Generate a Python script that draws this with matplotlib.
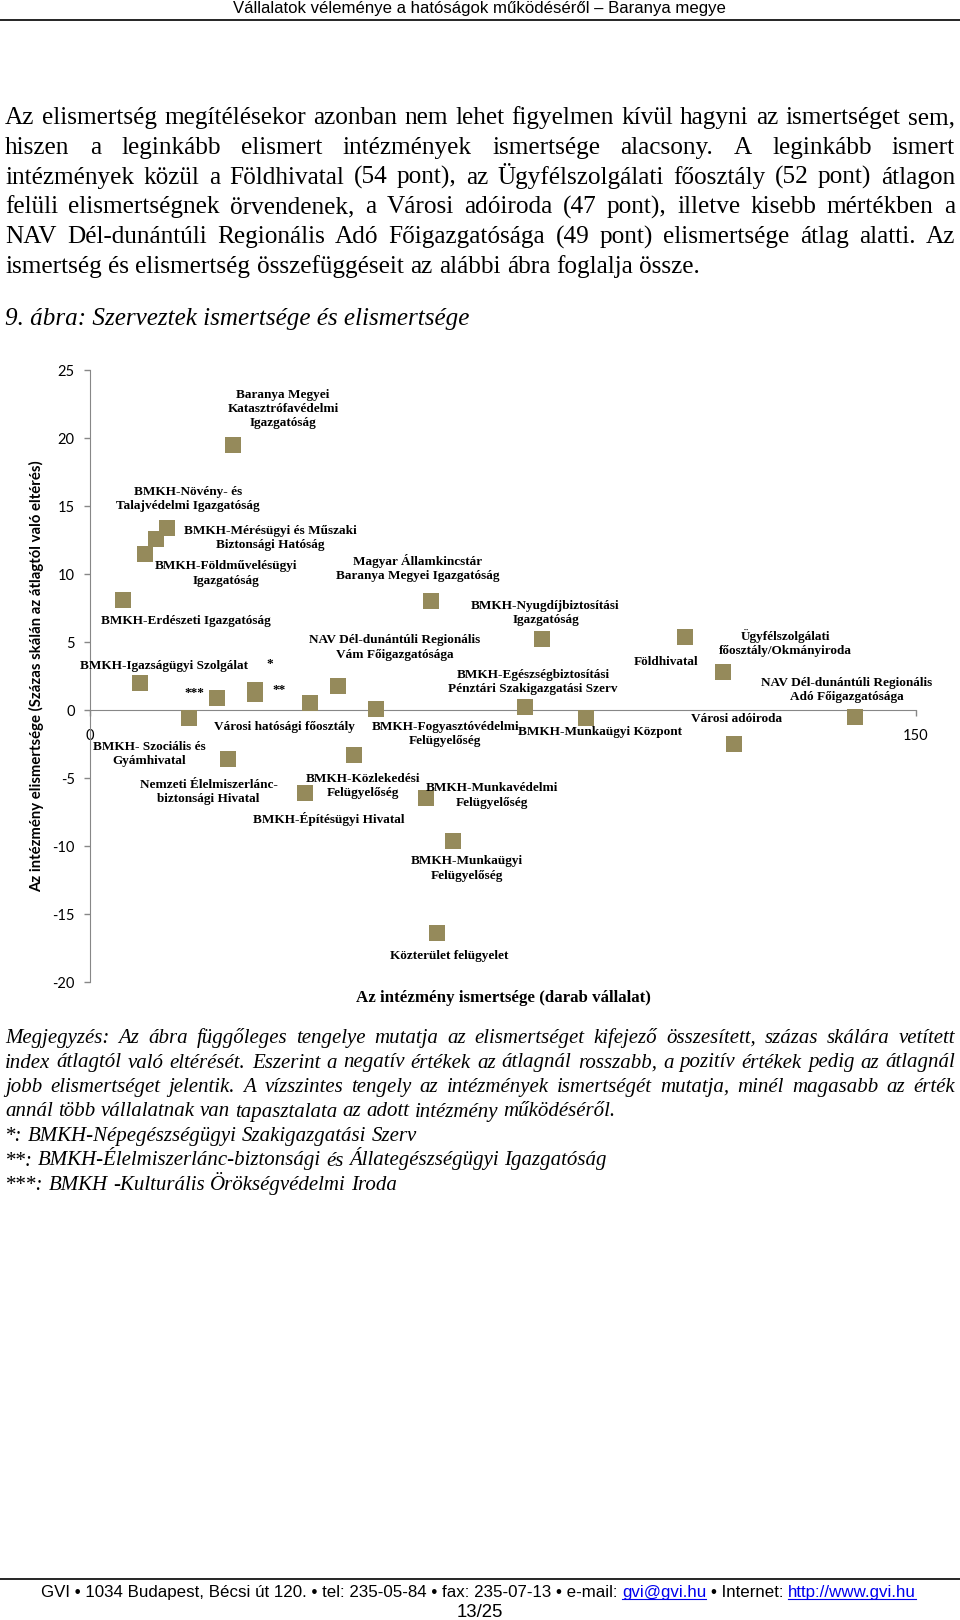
import matplotlib
matplotlib.use('Agg')
import matplotlib.pyplot as plt
from matplotlib.lines import Line2D

plt.rcParams['axes.unicode_minus'] = False

# chart data: ismertség (darab vállalat) and elismertség (eltérés az átlagtól)
names = [
    'Baranya Megyei\nKatasztrófavédelmi\nIgazgatóság',
    'BMKH-Növény- és\nTalajvédelmi Igazgatóság',
    'BMKH-Mérésügyi és Műszaki\nBiztonsági Hatóság',
    'BMKH-Földművelésügyi\nIgazgatóság',
    'BMKH-Erdészeti Igazgatóság',
    'Magyar Államkincstár\nBaranya Megyei Igazgatóság',
    'BMKH-Igazságügyi Szolgálat',
    '***',
    '*',
    '**',
    'BMKH- Szociális és\nGyámhivatal',
    'Városi hatósági főosztály',
    'NAV Dél-dunántúli Regionális\nVám Főigazgatósága',
    'BMKH-Fogyasztóvédelmi\nFelügyelőség',
    'Nemzeti Élelmiszerlánc-\nbiztonsági Hivatal',
    'BMKH-Építésügyi Hivatal',
    'BMKH-Közlekedési\nFelügyelőség',
    'BMKH-Munkavédelmi\nFelügyelőség',
    'BMKH-Munkaügyi\nFelügyelőség',
    'Közterület felügyelet',
    'BMKH-Nyugdíjbiztosítási\nIgazgatóság',
    'BMKH-Egészségbiztosítási\nPénztári Szakigazgatási Szerv',
    'BMKH-Munkaügyi Központ',
    'Földhivatal',
    'Ügyfélszolgálati\nfőosztály/Okmányiroda',
    'NAV Dél-dunántúli Regionális\nAdó Főigazgatósága',
    'Városi adóiroda',
]
ismertseg = [26, 12, 14, 10, 6, 62, 9, 23, 30, 30, 18, 40, 45, 52, 25, 39,
             48, 61, 66, 63, 82, 79, 90, 108, 115, 139, 117]
elismertseg = [19.5, 12.6, 13.4, 11.5, 8.1, 8.0, 2.0, 0.9, 1.5, 1.2, -0.6, 0.5,
               1.8, 0.05, -3.6, -6.1, -3.3, -6.5, -9.6, -16.4, 5.2, 0.2, -0.6,
               5.35, 2.8, -0.5, -2.5]

# label placement (pixel offset from the marker, x right / y down)
label_offsets = [(50, -36), (32, -40), (103, 10), (81, 20), (63, 21), (-14, -33),
                 (24, -17), (-22, -5), (15, -26), (24, -4), (-40, 36), (-26, 24),
                 (57, -38), (69, 25), (-19, 33), (24, 26), (9, 31), (66, -3),
                 (13, 28), (12, 23), (4, -26), (8, -25), (14, 14), (-19, 25),
                 (62, -29), (-9, -27), (2, -25)]

header = 'Vállalatok véleménye a hatóságok működéséről – Baranya megye'
body = [
    'Az elismertség megítélésekor azonban nem lehet figyelmen kívül hagyni az ismertséget sem,',
    'hiszen a leginkább elismert intézmények ismertsége alacsony. A leginkább ismert',
    'intézmények közül a Földhivatal (54 pont), az Ügyfélszolgálati főosztály (52 pont) átlagon',
    'felüli elismertségnek örvendenek, a Városi adóiroda (47 pont), illetve kisebb mértékben a',
    'NAV Dél-dunántúli Regionális Adó Főigazgatósága (49 pont) elismertsége átlag alatti. Az',
    'ismertség és elismertség összefüggéseit az alábbi ábra foglalja össze.',
]
caption = '9. ábra: Szerveztek ismertsége és elismertsége'
notes = [
    'Megjegyzés: Az ábra függőleges tengelye mutatja az elismertséget kifejező összesített, százas skálára vetített',
    'index átlagtól való eltérését. Eszerint a negatív értékek az átlagnál rosszabb, a pozitív értékek pedig az átlagnál',
    'jobb elismertséget jelentik. A vízszintes tengely az intézmények ismertségét mutatja, minél magasabb az érték',
    'annál több vállalatnak van tapasztalata az adott intézmény működéséről.',
    '*: BMKH-Népegészségügyi Szakigazgatási Szerv',
    '**: BMKH-Élelmiszerlánc-biztonsági és Állategészségügyi Igazgatóság',
    '***: BMKH -Kulturális Örökségvédelmi Iroda',
]
footer = [('GVI • 1034 Budapest, Bécsi út 120. • tel: 235-05-84 • fax: 235-07-13 • e-mail: ', False),
          ('gvi@gvi.hu', True), (' • Internet: ', False), ('http://www.gvi.hu', True)]
page_no = '13/25'

W, H = 960, 1620
fig = plt.figure(figsize=(9.6, 16.2), dpi=100)
fig.patch.set_facecolor('white')
renderer = fig.canvas.get_renderer()


def fx(x):
    return x / W


def fy(y):
    return 1 - y / H


def text_w(s, size, **kw):
    t = fig.text(0, 0, s, fontsize=size, **kw)
    w = t.get_window_extent(renderer).width
    t.remove()
    return w


def fit(s, target, **kw):
    return 10 * target / text_w(s, 10, **kw)


def hline(x0, x1, y, lw=1.0, color='black'):
    fig.add_artist(Line2D([fx(x0), fx(x1)], [fy(y), fy(y)], lw=lw, color=color))


def para_line(s, x0, x1, base, size, justify, **kw):
    words = s.split(' ')
    ws = [text_w(w, size, **kw) for w in words]
    if justify and len(words) > 1:
        gap = (x1 - x0 - sum(ws)) / (len(words) - 1)
    else:
        gap = text_w('a a', size, **kw) - text_w('aa', size, **kw)
    x = x0
    for w, wd in zip(words, ws):
        fig.text(fx(x), fy(base), w, fontsize=size, ha='left', va='baseline', **kw)
        x += wd + gap


serif = dict(family='Liberation Serif')
sans = dict(family='Liberation Sans')

# header
hs = fit(header, 494, **sans)
fig.text(fx(479.5), fy(13.5), header, fontsize=hs, ha='center', va='baseline', **sans)
hline(0, 960, 19.5, lw=1.2)

# body paragraph
bs = fit(body[-1], 695, **serif)
for i, line in enumerate(body):
    para_line(line, 5, 955, 124 + i * 29.8, bs, i < len(body) - 1, **serif)

cs = fit(caption, 465, style='italic', **serif)
fig.text(fx(5), fy(325), caption, fontsize=cs, style='italic', ha='left', va='baseline', **serif)

# chart
ax = fig.add_axes([fx(90), fy(982), (916 - 90) / W, (982 - 370) / H])
ax.set_xlim(0, 150)
ax.set_ylim(-20, 25)
ax.scatter(ismertseg, elismertseg, marker='s', s=11 ** 2, color='#958A5B',
           linewidths=0, zorder=3)

axis_col = '#878787'
for side in ['top', 'right']:
    ax.spines[side].set_visible(False)
ax.spines['left'].set_color(axis_col)
ax.spines['bottom'].set_color(axis_col)
ax.spines['bottom'].set_position(('data', 0))
ax.set_xticks([0, 150])
ax.set_yticks(range(-20, 30, 5))
ax.tick_params(axis='both', direction='out', length=4, width=1, color=axis_col,
               labelsize=10.5, labelcolor='black')
ax.tick_params(axis='y', pad=7)
ax.tick_params(axis='x', pad=10)
for lab in ax.get_xticklabels() + ax.get_yticklabels():
    lab.set_family('Lato')

lab_kw = dict(family='Liberation Serif', weight='bold')
ls = fit('BMKH-Erdészeti Igazgatóság', 170, **lab_kw)
for name, xv, yv, (dx, dy) in zip(names, ismertseg, elismertseg, label_offsets):
    ax.annotate(name, (xv, yv), xytext=(dx, -dy), textcoords='offset pixels',
                ha='center', va='center', fontsize=ls, linespacing=1.25,
                zorder=4, **lab_kw)

ylab = 'Az intézmény elismertsége (Százas skálán az átlagtól való eltérés)'
ys = fit(ylab, 428, family='Lato', weight='bold')
ax.set_ylabel(ylab, fontsize=ys, family='Lato', weight='bold')
ax.yaxis.set_label_coords((44 - 90) / 826, 0.5)

xlab = 'Az intézmény ismertsége (darab vállalat)'
xs = fit(xlab, 297, **lab_kw)
ax.text(0.5, (982 - 998) / 612, xlab, transform=ax.transAxes, ha='center',
        va='center', fontsize=xs, **lab_kw)

# notes under the chart
ns = fit(notes[3], 612, style='italic', **serif)
for i, line in enumerate(notes):
    para_line(line, 5, 955, 1043 + i * 24.5, ns, i < 3, style='italic', **serif)

# footer
hline(0, 960, 1579, lw=1.2)
full = ''.join(p for p, _ in footer)
fs = fit(full, 874, **sans)
x0 = 478.5 - text_w(full, fs, **sans) / 2
pos = 0
for part, link in footer:
    s = part.lstrip()
    pre = full[:pos + len(part) - len(s)]
    off = 0
    if pre:
        off = text_w(pre + s[0], fs, **sans) - text_w(s[0], fs, **sans)
    col = '#0000EE' if link else 'black'
    fig.text(fx(x0 + off), fy(1597), s, fontsize=fs, color=col, ha='left',
             va='baseline', **sans)
    if link:
        hline(x0 + off, x0 + off + text_w(s, fs, **sans), 1599, lw=0.8, color=col)
    pos += len(part)
fig.text(fx(480), fy(1617), page_no, fontsize=fs * 1.1, ha='center', va='baseline', **sans)

fig.savefig('out.png', dpi=100, facecolor='white')
